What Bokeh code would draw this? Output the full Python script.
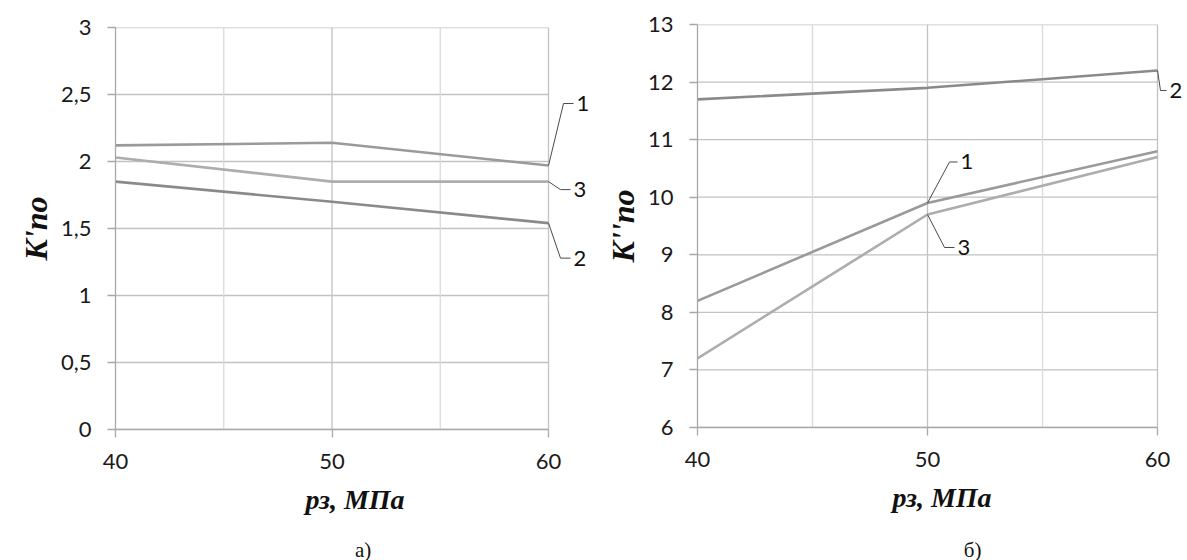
from bokeh.plotting import figure
from bokeh.models import FixedTicker, Label
from bokeh.layouts import row, column
from bokeh.embed import file_html
from bokeh.resources import INLINE

# ---- data ----
pressure = [40, 50, 60]
x_major = [40, 50, 60]
x_minor = [45, 55]

a_series1 = [2.12, 2.14, 1.97]
a_series2 = [1.85, 1.70, 1.54]
a_series3 = [2.03, 1.85, 1.85]
a_yticks = [0, 0.5, 1, 1.5, 2, 2.5, 3]

b_series1 = [8.2, 9.9, 10.8]
b_series2 = [11.7, 11.9, 12.2]
b_series3 = [7.2, 9.7, 10.7]
b_yticks = [6, 7, 8, 9, 10, 11, 12, 13]

series_names = ["1", "2", "3"]

TICK_FONT = "Lato"
TITLE_FONT = "Liberation Serif"
MAJOR_GRID = "#c2c2c2"
MINOR_GRID = "#dadada"
AXIS_COL = "#a8a8a8"
LINE_COLS = {"1": "#9a9a9a", "2": "#8a8a8a", "3": "#adadad"}

CAP_H = 32


def fmt(v):
    return ("%g" % v).replace(".", ",")


def make_fig(width, height, bl, bt, bb, data_w, yticks, ylabel):
    # frame extends to the right edge so the callouts can live inside it
    frame_w = width - bl
    px_per_x = data_w / (x_major[-1] - x_major[0])
    x_end = x_major[0] + frame_w / px_per_x
    p = figure(width=width, height=height, output_backend="svg",
               toolbar_location=None, x_range=(x_major[0], x_end),
               y_range=(yticks[0], yticks[-1]),
               min_border_left=bl, min_border_right=0, min_border_top=bt,
               min_border_bottom=bb)
    p.outline_line_color = None
    p.background_fill_color = "white"
    p.border_fill_color = "white"
    p.xgrid.visible = False
    p.ygrid.visible = False

    # grid lines limited to the data area
    y0, y1 = yticks[0], yticks[-1]
    p.segment(x0=[x_major[0]] * len(yticks), x1=[x_major[-1]] * len(yticks),
              y0=yticks, y1=yticks, line_color=MAJOR_GRID, line_width=1.3)
    p.segment(x0=x_minor, x1=x_minor, y0=[y0] * len(x_minor),
              y1=[y1] * len(x_minor), line_color=MINOR_GRID, line_width=1.3)
    p.segment(x0=x_major[1:], x1=x_major[1:], y0=[y0] * (len(x_major) - 1),
              y1=[y1] * (len(x_major) - 1), line_color=MAJOR_GRID,
              line_width=1.3)

    p.xaxis.ticker = FixedTicker(ticks=x_major)
    p.xaxis.bounds = (x_major[0], x_major[-1])
    p.yaxis.ticker = FixedTicker(ticks=yticks)
    p.yaxis.major_label_overrides = {t: fmt(t) for t in yticks}
    for ax in (p.xaxis, p.yaxis):
        ax.axis_line_color = AXIS_COL
        ax.axis_line_width = 1.3
        ax.major_tick_line_color = AXIS_COL
        ax.major_tick_line_width = 1.3
        ax.major_tick_in = 0
        ax.major_tick_out = 8
        ax.minor_tick_line_color = None
        ax.major_label_text_font = TICK_FONT
        ax.major_label_text_font_size = "22px"
        ax.major_label_text_color = "#1a1a1a"
        ax.axis_label_text_font = TITLE_FONT
        ax.axis_label_text_font_style = "bold italic"
        ax.axis_label_text_color = "#111111"
    p.yaxis.axis_label_text_font_size = "32px"
    p.xaxis.axis_label_text_font_size = "28px"
    p.yaxis.major_label_standoff = 16
    p.xaxis.major_label_standoff = 16
    p.yaxis.axis_label = ylabel
    p.yaxis.axis_label_standoff = 4
    p.xaxis.axis_label = "рз, МПа"
    p.xaxis.axis_label_standoff = 12
    return p, frame_w


def caption_fig(width, text, cx):
    c = figure(width=width, height=CAP_H, output_backend="svg",
               toolbar_location=None, x_range=(0, width), y_range=(0, CAP_H),
               x_axis_type=None, y_axis_type=None, min_border=0)
    c.outline_line_color = None
    c.grid.visible = False
    c.add_layout(Label(x=cx, y=11, text=text, text_align="center",
                       text_baseline="middle", text_font=TITLE_FONT,
                       text_font_size="21px", text_color="#111111"))
    return c


def leader(p, fw, fh, xs, ys, idx, dx, dy, h, text):
    sx = fw / (p.x_range.end - p.x_range.start)
    sy = fh / (p.y_range.end - p.y_range.start)
    x0, y0 = xs[idx], ys[idx]
    ex, ey = x0 + dx / sx, y0 - dy / sy
    fx = ex + h / sx
    p.line([x0, ex, fx], [y0, ey, ey], line_color="#4a4a4a", line_width=1)
    p.add_layout(Label(x=fx, y=ey, text=text, x_offset=3,
                       text_baseline="middle", text_align="left",
                       text_font=TICK_FONT, text_font_size="22px",
                       text_color="#111111"))


MAIN_H = 560 - CAP_H

# ---- panel a ----
A_TOP, A_BOT = 27, 429
pa, fwa = make_fig(594, MAIN_H, 115, A_TOP, MAIN_H - A_BOT, 433, a_yticks, "K'по")
for name, ys in zip(series_names, [a_series1, a_series2, a_series3]):
    pa.line(pressure, ys, line_color=LINE_COLS[name], line_width=2.6)
A_H = A_BOT - A_TOP
leader(pa, fwa, A_H, pressure, a_series1, 2, 15, -62, 10, "1")
leader(pa, fwa, A_H, pressure, a_series3, 2, 12, 8, 10, "3")
leader(pa, fwa, A_H, pressure, a_series2, 2, 12, 35, 10, "2")

# ---- panel b ----
B_TOP, B_BOT = 24, 427
pb, fwb = make_fig(592, MAIN_H, 103, B_TOP, MAIN_H - B_BOT, 460, b_yticks, "K''по")
for name, ys in zip(series_names, [b_series1, b_series2, b_series3]):
    pb.line(pressure, ys, line_color=LINE_COLS[name], line_width=2.6)
B_H = B_BOT - B_TOP
leader(pb, fwb, B_H, pressure, b_series2, 2, 3, 20, 6, "2")
leader(pb, fwb, B_H, pressure, b_series1, 1, 22, -41, 8, "1")
leader(pb, fwb, B_H, pressure, b_series3, 1, 17, 33, 10, "3")

ca = caption_fig(594, "а)", 307)
cb = caption_fig(592, "б)", 333)

layout = row(column(pa, ca), column(pb, cb))
open("out.html", "w").write(file_html(layout, INLINE))
